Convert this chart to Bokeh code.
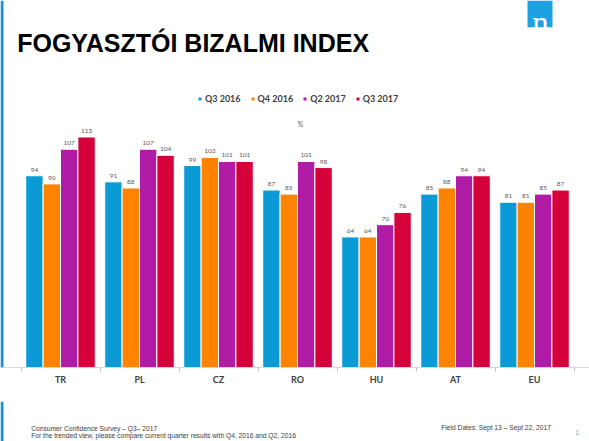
from bokeh.plotting import figure
from bokeh.layouts import column
from bokeh.models import (Range1d, FixedTicker, Legend, LegendItem, Label,
                          BoxAnnotation, ColumnDataSource)
from bokeh.embed import file_html
from bokeh.resources import INLINE
from bokeh.core.properties import value

# ---- data ----
countries = ["TR", "PL", "CZ", "RO", "HU", "AT", "EU"]
series_names = ["Q3 2016", "Q4 2016", "Q2 2017", "Q3 2017"]
q3_2016 = [94, 91, 99, 87, 64, 85, 81]
q4_2016 = [90, 88, 103, 85, 64, 88, 81]
q2_2017 = [107, 107, 101, 101, 70, 94, 85]
q3_2017 = [113, 104, 101, 98, 76, 94, 87]
series_values = [q3_2016, q4_2016, q2_2017, q3_2017]
colors = ["#0a9bd7", "#ff8200", "#b11ca7", "#d6003a"]

W = 589
MAIN_H = 401
BOTTOM = 34
FRAME_H = MAIN_H - BOTTOM
FOOT_H = 40

fig = figure(width=W, height=MAIN_H, output_backend="svg", toolbar_location=None,
             title=None, x_range=Range1d(-0.2595, 7.196), y_range=Range1d(0, 179.9),
             y_axis_location=None, min_border_left=0, min_border_right=0,
             min_border_top=0, min_border_bottom=BOTTOM)
fig.grid.visible = False
fig.outline_line_color = None
fig.background_fill_color = "white"
fig.border_fill_color = "white"

offsets = [-0.33, -0.11, 0.11, 0.33]
items = []
for vals, name, col, off in zip(series_values, series_names, colors, offsets):
    xs = [i + 0.5 + off for i in range(len(countries))]
    src = ColumnDataSource(dict(x=xs, top=vals, lab=[str(v) for v in vals]))
    r = fig.vbar(x="x", top="top", width=0.22, source=src, fill_color=col,
                 line_color="white", line_width=1)
    fig.text(x="x", y="top", text="lab", source=src, text_align="center",
             text_baseline="bottom", y_offset=-4, text_font=value("Lato"),
             text_font_size="6.5px", text_color="#595959")
    items.append(LegendItem(label=name, renderers=[r]))

ax = fig.xaxis[0]
ax.ticker = FixedTicker(ticks=[i + 0.5 for i in range(len(countries))],
                        minor_ticks=list(range(len(countries) + 1)))
ax.major_label_overrides = {i + 0.5: c for i, c in enumerate(countries)}
ax.major_tick_line_color = None
ax.major_tick_out = 0
ax.major_tick_in = 0
ax.minor_tick_line_color = "#bfbfbf"
ax.minor_tick_out = 4
ax.minor_tick_in = 0
ax.axis_line_color = "#d9d9d9"
ax.major_label_text_font = "Lato"
ax.major_label_text_font_style = "bold"
ax.major_label_text_font_size = "9px"
ax.major_label_text_color = "#404040"
ax.major_label_standoff = 2

leg = Legend(items=items, orientation="horizontal", location=(197, 263.5),
             glyph_width=5, glyph_height=5, label_height=5, label_standoff=3,
             spacing=9, padding=0, margin=0, border_line_color=None,
             background_fill_alpha=0, label_text_font="Lato",
             label_text_font_style="bold", label_text_font_size="9px",
             label_text_color="#404040")
fig.add_layout(leg)

# left slide stripe
fig.add_layout(BoxAnnotation(left=0, right=3, top=FRAME_H, bottom=0,
                             left_units="screen", right_units="screen",
                             top_units="screen", bottom_units="screen",
                             fill_color="#1a8fd8", fill_alpha=1, line_color=None))
# title
fig.add_layout(Label(x=16.7, y=FRAME_H - 42.7, x_units="screen", y_units="screen",
                     text="FOGYASZTÓI BIZALMI INDEX", text_font="Liberation Sans",
                     text_font_style="bold", text_font_size="25px",
                     text_color="#000000", text_baseline="alphabetic"))
# percent sign
fig.add_layout(Label(x=299.7, y=FRAME_H - 123.3, x_units="screen", y_units="screen",
                     text="%", text_font="Lato", text_font_size="7px",
                     text_color="#595959", text_align="center",
                     text_baseline="middle"))
# logo
fig.add_layout(BoxAnnotation(left=527, right=552, top=FRAME_H, bottom=FRAME_H - 26.7,
                             left_units="screen", right_units="screen",
                             top_units="screen", bottom_units="screen",
                             fill_color="#1ea1e0", fill_alpha=1, line_color=None))
fig.add_layout(Label(x=540, y=FRAME_H - 22, x_units="screen", y_units="screen",
                     text="n", text_font="Liberation Serif", text_font_size="33px",
                     text_color="white", text_align="center",
                     text_baseline="alphabetic"))

# ---- footer strip ----
foot = figure(width=W, height=FOOT_H, output_backend="svg", toolbar_location=None,
              title=None, x_range=Range1d(0, W), y_range=Range1d(0, FOOT_H),
              x_axis_location=None, y_axis_location=None, min_border=0)
foot.grid.visible = False
foot.outline_line_color = None
foot.border_fill_color = "white"
foot.add_layout(BoxAnnotation(left=0, right=3, top=FOOT_H, bottom=0,
                              left_units="screen", right_units="screen",
                              top_units="screen", bottom_units="screen",
                              fill_color="#1a8fd8", fill_alpha=1, line_color=None))
fs = dict(x_units="screen", y_units="screen", text_font="Liberation Sans",
          text_font_size="6.7px", text_color="#404040", text_baseline="middle")
top_of_foot = MAIN_H
foot.add_layout(Label(x=30.7, y=FOOT_H - (427.7 - top_of_foot),
                      text="Consumer Confidence Survey – Q3– 2017", **fs))
foot.add_layout(Label(x=30.7, y=FOOT_H - (435.3 - top_of_foot),
                      text="For the trended view, please compare current quarter results with Q4, 2016 and Q2, 2016",
                      **fs))
foot.add_layout(Label(x=440.7, y=FOOT_H - (427.3 - top_of_foot),
                      text="Field Dates: Sept 13 – Sept 22, 2017", **fs))
foot.add_layout(Label(x=574.7, y=FOOT_H - (431.7 - top_of_foot), x_units="screen",
                      y_units="screen", text="1", text_font="Liberation Sans",
                      text_font_size="6.5px", text_color="#4bacc6",
                      text_baseline="middle"))

p = column(fig, foot, spacing=0)
open("out.html", "w").write(file_html(p, INLINE))
